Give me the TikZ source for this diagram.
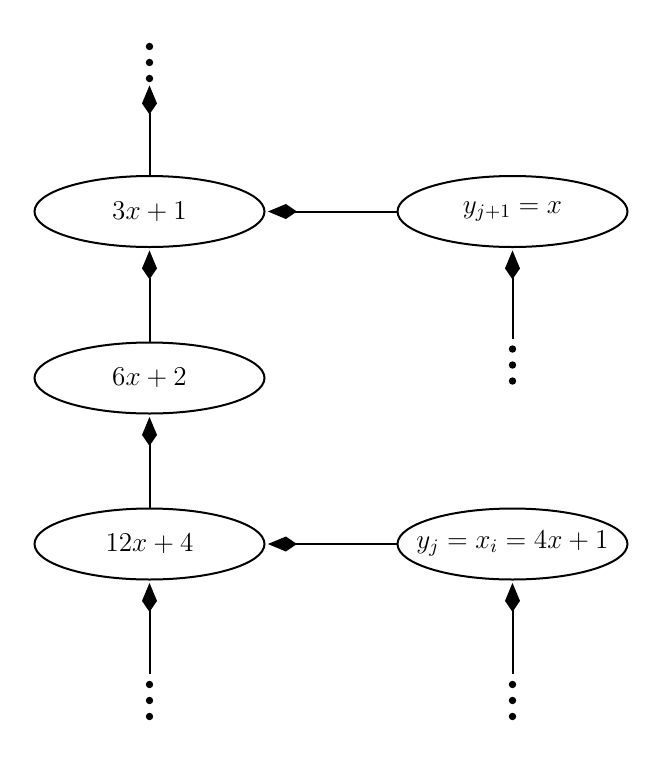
\RequirePackage{fix-cm}
\documentclass[tikz,border=0pt]{standalone}
\usetikzlibrary{shapes.geometric,arrows.meta}
\begin{document}
\begin{tikzpicture}[x=0.5pt,y=-0.5pt,
  line width=1pt,
  ell/.style={ellipse, draw, line width=1pt, minimum width=115pt, minimum height=35.5pt, inner sep=0pt, font=\fontsize{13.6}{16}\selectfont},
  dotcol/.style={rectangle, minimum width=7pt, minimum height=19.5pt, inner sep=0pt},
  arr/.style={-{Kite[length=14.5pt,width=7.5pt,inset=5.5pt]}, shorten >=1.2pt, line width=1pt},
  fromdots/.style={shorten <=3pt}
]
\useasboundingbox (0,0) rectangle (662,757);
\node[ell] (A) at (149.5,211.5) {\makebox[0pt]{$3x+1$}};
\node[ell] (B) at (149.5,378) {\makebox[0pt]{$6x+2$}};
\node[ell] (C) at (149.5,544) {\makebox[0pt]{$12x+4$}};
\node[ell] (R1) at (512.5,211.5) {\makebox[0pt]{$y_{j+1}=x$}};
\node[ell] (R2) at (512.5,544) {\makebox[0pt]{$y_j=x_i=4x+1$}};
\node[dotcol] (d1) at (149.5,62.5) {};
\node[dotcol] (d2) at (512.5,365) {};
\node[dotcol] (d3) at (149.5,700.5) {};
\node[dotcol] (d4) at (512.5,700.5) {};
\foreach \n in {d1,d2,d3,d4}
  \fill (\n.center) circle[radius=1.85pt] ++(0,8pt) circle[radius=1.85pt] ++(0,-16pt) circle[radius=1.85pt];
\draw[arr] (A) -- (d1);
\draw[arr] (B) -- (A);
\draw[arr] (C) -- (B);
\draw[arr,fromdots] (d3) -- (C);
\draw[arr] (R1) -- (A);
\draw[arr,fromdots] (d2) -- (R1);
\draw[arr] (R2) -- (C);
\draw[arr,fromdots] (d4) -- (R2);
\end{tikzpicture}
\end{document}
